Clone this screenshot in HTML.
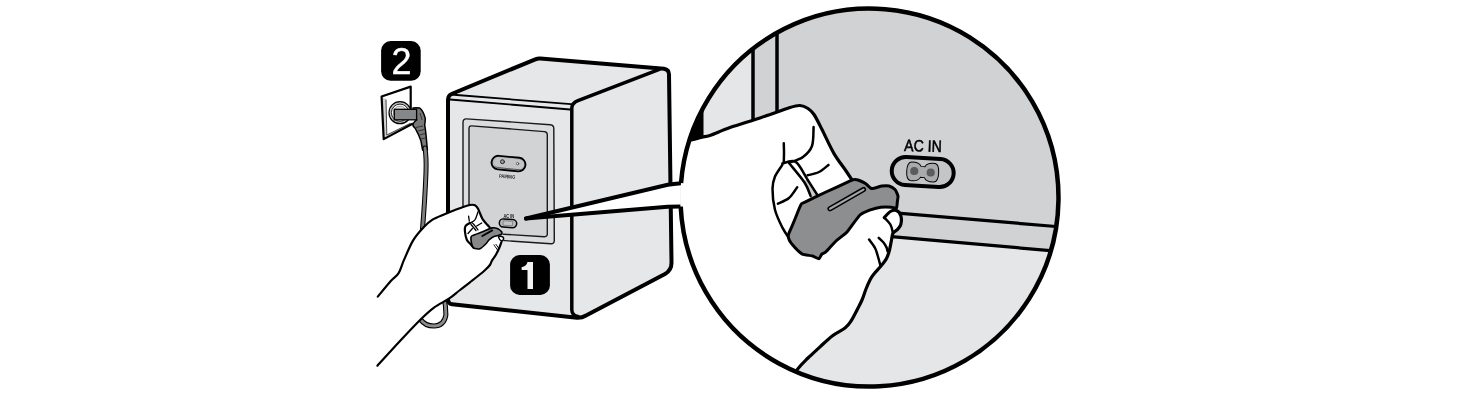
<!DOCTYPE html>
<html><head><meta charset="utf-8">
<style>
html,body{margin:0;padding:0;background:#fff;width:1465px;height:403px;overflow:hidden}
svg{display:block;will-change:transform}
</style></head>
<body>
<svg width="1465" height="403" viewBox="0 0 1465 403">
<defs>
<clipPath id="cc"><circle cx="869.5" cy="197.4" r="189"/></clipPath>
</defs>
<g stroke-linejoin="round" stroke-linecap="round">
  <path d="M448,299 L448,100 Q448,95.5 451.5,94 L535.3,59.3 Q537.8,58.3 540.3,58.5 L664,68.8 Q669,69.6 669,74.5 L671.5,262 Q671.8,270 665,274 L586,315.5 Q582,317.9 577,317.7 L452,304.3 Q448,303.8 448,299 Z" fill="#e6e7e9" stroke="#000" stroke-width="4"/>
  <path d="M450.5,94.5 L571,104.2 M450,99.5 L570,109.5" fill="none" stroke="#000" stroke-width="1.8"/>
  <path d="M659.3,69.3 L578,100.7 Q572,103 571.8,108 L571.8,310 Q572,315.5 578,316.5" fill="none" stroke="#000" stroke-width="3.5"/>
  <path d="M466.5,118.9 L550.3,124.7 Q553.8,125 553.8,128.5 L554.3,240.5 Q554.3,244 550.8,243.8 L466.5,237.9 Q463,237.7 463,234.2 L463,122.5 Q463,118.7 466.5,118.9 Z" fill="#dbdcde" stroke="#1a1a1a" stroke-width="1.4"/>
  <path d="M471.5,125.9 L544.3,131.6 Q547.3,131.8 547.3,134.8 L547.3,233.9 Q547.3,236.9 544.3,236.7 L472,232.4 Q469,232.2 469,229.2 L469,128.9 Q469,125.7 471.5,125.9 Z" fill="#d2d3d5" stroke="#1a1a1a" stroke-width="1.4"/>
  <g transform="translate(508.5,163.6) rotate(5.5)">
    <rect x="-17" y="-6.8" width="34" height="13.6" rx="6.8" fill="#b4b5b7" stroke="#000" stroke-width="1.9"/>
    <rect x="-14.5" y="-5" width="30" height="9.5" rx="4.7" fill="#c3c4c6"/>
    <path d="M-13,4.6 Q-4,5.3 13,5" fill="none" stroke="#222" stroke-width="0.6"/>
    <circle cx="-6.2" cy="-1.3" r="2" fill="#999" stroke="#222" stroke-width="0.9"/>
    <circle cx="9" cy="-0.8" r="1.2" fill="#eee" stroke="#333" stroke-width="0.7"/>
  </g>
  <text x="499" y="178.3" font-family="Liberation Sans" font-weight="bold" font-size="5.2" textLength="16" lengthAdjust="spacingAndGlyphs" fill="#222" transform="rotate(4 507.5 178)">PAIRING</text>
  <text x="503.5" y="217.8" font-family="Liberation Sans" font-weight="bold" font-size="4.8" textLength="10.5" lengthAdjust="spacingAndGlyphs" fill="#111">AC IN</text>
  <g transform="translate(508,223.3) rotate(4)">
    <rect x="-8.7" y="-4.1" width="17.4" height="8.2" rx="4.1" fill="#b9babc" stroke="#000" stroke-width="1.5"/>
    <path d="M-4.5,-2.2 h9 v4.4 h-9 z" fill="#c4c5c7" stroke="#666" stroke-width="0.6"/>
  </g>
</g>
<g>
  <path d="M381.6,96.5 L410.7,86.6 L411.5,123.5 L383.7,139.1 Z" fill="#fff"/>
  <path d="M382.8,97 L386,99.5 L386.8,135 L410.5,123 L410.8,124 L383.7,138.6 Z" fill="#d0d0d0"/>
  <path d="M386,99.5 L386.8,135 L410.5,123.3" fill="none" stroke="#333" stroke-width="0.9"/>
  <path d="M410.7,109 L410.7,86.6 L381.6,96.5 L383.7,139.1 L413,123.5" fill="none" stroke="#000" stroke-width="2.2" stroke-linejoin="round"/>
  <circle cx="400" cy="112.7" r="11" fill="#b9babc" stroke="#000" stroke-width="1.2"/>
  <circle cx="400" cy="112.7" r="8.6" fill="#fff" stroke="#222" stroke-width="1"/>
  <circle cx="400" cy="112.7" r="6.6" fill="#e2e2e2" stroke="#666" stroke-width="0.6"/>
  <path d="M413,108 Q417,107.5 419.7,108 Q423.5,111 425.3,118.6 Q425.2,122 424.7,124.8 Q425.5,130 426,134.7 L427.4,150 L422.6,150 L421,141 Q419.5,137 418.5,134.7 Q416.5,131 415.4,128.5 Q412.5,126 412.9,124.2 Q414,121.5 416.6,119.8 Z" fill="#77787a" stroke="#000" stroke-width="1.5" stroke-linejoin="round"/>
  <path d="M416,127.5 L423,126 M418,131 L424.5,129.5 M419.5,135 L425,133.5 M420.5,139 L425.5,138 M420,113 L422,120" stroke="#333" stroke-width="1"/>
  <rect x="394.3" y="109.3" width="22.3" height="10.5" fill="#868789" stroke="#000" stroke-width="1.3"/>
  <path d="M425,148 Q426.5,158 426,172 Q425,200 422,235" fill="none" stroke="#000" stroke-width="5" stroke-linecap="round"/>
  <path d="M425,148 Q426.5,158 426,172 Q425,200 422,235" fill="none" stroke="#7d7e80" stroke-width="2.9" stroke-linecap="round"/>
  <path d="M444,298 Q446,306 445.9,315 Q444,326 434,326 Q425,326 420.6,319.5" fill="none" stroke="#000" stroke-width="5" stroke-linecap="round"/>
  <path d="M444,298 Q446,306 445.9,315 Q444,326 434,326 Q425,326 420.6,319.5" fill="none" stroke="#8a8b8d" stroke-width="2.8" stroke-linecap="round"/>
</g>
<rect x="381.1" y="41.1" width="39.6" height="39.6" rx="9.5" fill="#000"/>
<text x="401.6" y="73.9" font-family="Liberation Sans" font-size="36" text-anchor="middle" fill="#fff" stroke="#fff" stroke-width="0.4">2</text>
<g stroke="#000" stroke-linejoin="round" stroke-linecap="round">
<path d="M377.8,296.6 C380,294 387.3,284.9 390.8,281 C394.3,277.1 396.4,276.6 398.6,273.1 C400.8,269.6 401.5,265.5 403.9,260.1 C406.3,254.7 409.8,246 413,240.6 C416.2,235.2 420.1,231.1 423.4,227.6 C426.6,224.1 429.1,221.9 432.5,219.7 C435.9,217.5 440.2,216.1 444,214.5 C447.8,212.9 450.7,211.6 455,210 C459.3,208.4 466.5,205.7 469.9,205 C473.3,204.3 474.1,204.8 475.5,205.6 C476.9,206.4 477.5,207.7 478.6,209.9 C479.7,212.1 480.9,216.1 482.3,218.6 C483.8,221.1 486.1,223.4 487.3,224.8 C488.5,226.2 489.3,226.9 489.7,227.3 L497.2,228.5 L501.8,232 L503.8,239.9 L501.3,242.4 C501,243.3 500.2,245.7 499.3,247.8 C498.4,249.9 497.1,252.7 495.9,254.8 C494.7,256.9 492.9,259 491.9,260.7 C490.9,262.4 491.1,263.4 489.9,265 C488.7,266.6 487.7,267.8 484.6,270.5 C481.6,273.2 475.7,277.8 471.6,281 C467.5,284.2 463.8,287.1 460,290 C456.2,292.9 453.2,295.8 448.9,298.7 C444.6,301.6 438.7,304.1 434,307.6 C429.3,311.1 426.3,313.9 420.6,319.5 C414.9,325.1 407.2,333.3 400,341 C392.8,348.7 381.2,361.6 377.4,365.7 L370,366 L370,300 Z" fill="#fff" stroke="none"/>
<path d="M377.8,296.6 C380,294 387.3,284.9 390.8,281 C394.3,277.1 396.4,276.6 398.6,273.1 C400.8,269.6 401.5,265.5 403.9,260.1 C406.3,254.7 409.8,246 413,240.6 C416.2,235.2 420.1,231.1 423.4,227.6 C426.6,224.1 429.1,221.9 432.5,219.7 C435.9,217.5 440.2,216.1 444,214.5 C447.8,212.9 450.7,211.6 455,210 C459.3,208.4 466.5,205.7 469.9,205 C473.3,204.3 474.1,204.8 475.5,205.6 C476.9,206.4 477.5,207.7 478.6,209.9 C479.7,212.1 480.9,216.1 482.3,218.6 C483.8,221.1 486.1,223.4 487.3,224.8 C488.5,226.2 489.3,226.9 489.7,227.3" fill="none" stroke-width="2.2"/>
<path d="M501.3,242.4 C501,243.3 500.2,245.7 499.3,247.8 C498.4,249.9 497.1,252.7 495.9,254.8 C494.7,256.9 492.9,259 491.9,260.7 C490.9,262.4 491.1,263.4 489.9,265 C488.7,266.6 487.7,267.8 484.6,270.5 C481.6,273.2 475.7,277.8 471.6,281 C467.5,284.2 463.8,287.1 460,290 C456.2,292.9 453.2,295.8 448.9,298.7 C444.6,301.6 438.7,304.1 434,307.6 C429.3,311.1 426.3,313.9 420.6,319.5 C414.9,325.1 407.2,333.3 400,341 C392.8,348.7 381.2,361.6 377.4,365.7" fill="none" stroke-width="2.2"/>
<path d="M469.9,223 C469.2,223.5 466.3,224.7 465.5,226 C464.7,227.3 464.7,228.7 464.9,231 C465.1,233.3 465.8,237.4 466.8,239.7 C467.8,242 470,243.3 471.1,244.7 C472.2,246 473.2,247.3 473.6,247.8" fill="none" stroke-width="2.2"/>
<path d="M478,211.8 C477.5,213.2 476.2,218 474.9,219.9 C473.5,221.8 470.7,222.5 469.9,223" fill="none" stroke-width="1.3"/>
<path d="M468.6,216.1 C468.7,216.9 469.2,220.3 469.3,221.1" fill="none" stroke-width="1.3"/>
<path d="M469.9,223 C470.3,223 471,221.9 472.4,223 C473.8,224.1 477.1,228.7 478,229.8" fill="none" stroke-width="1.3"/>
<path d="M471,224.5 C471.8,225.5 475.2,229.5 476,230.5" fill="none" stroke-width="1.3"/>
<path d="M476.7,226 C477.5,225.5 480.9,223.5 481.7,223" fill="none" stroke-width="1.3"/>
<path d="M468,233.5 C468.7,232.7 471.7,229.3 472.4,228.5" fill="none" stroke-width="1.3"/>
<path d="M471.7,236 C472.8,235.1 479.9,232.8 482,232 C484.1,231.2 490.7,228.2 492.2,227.9 C493.7,227.6 496.2,228.1 497.2,228.5 C498.2,228.9 501.4,231.4 501.8,232 C502.2,232.6 501.6,234.1 501.3,234.4 C501,234.7 499.1,235.2 498.4,235.4 C497.7,235.6 494.8,236 493.9,236.4 C493,236.8 489.8,239.2 489,239.9 C488.2,240.6 486.9,242.9 486,243.8 C485.1,244.7 481.2,248.4 480,248.8 C478.8,249.2 474.5,248.6 473.6,247.8 C472.7,247 471.3,242.2 471.1,241 C470.9,239.8 470.6,236.9 471.7,236 Z" fill="#87888a" stroke-width="1.6"/>
<path d="M482.3,236 L492.2,230.4" fill="none" stroke-width="1.9" stroke-dasharray="1.1 0.7"/>
<path d="M498.4,236.9 Q500.8,235.3 503.3,237.4 Q504.5,239.5 501.8,241.4 Q499.5,240.5 498.4,236.9 Z" fill="#fff" stroke-width="1.4"/>
<path d="M493.9,244.8 L497.4,249.8 M495.9,244.3 L498.4,247.8" fill="none" stroke-width="0.9"/>
</g>
<rect x="510.1" y="255.1" width="39.8" height="39.8" rx="9.5" fill="#000"/>
<path d="M527.5,262.1 L533,262.1 L533,288.9 L527.5,288.9 L527.5,270 L521.6,270 L521.6,267.2 Q526.5,266.5 527.5,262.1 Z" fill="#f2f2f2"/>
<path d="M526,218.5 L667.7,184.8 Q676,183.5 684,183 L681,206.5 L667.7,207 Z" fill="#fff" stroke="none"/>
<path d="M526,218.5 L667.7,184.8 Q676,183.5 684,183" fill="none" stroke="#000" stroke-width="4" stroke-linecap="round"/>
<path d="M526,218.5 L667.7,206.8 L681,206.5" fill="none" stroke="#000" stroke-width="4" stroke-linecap="round"/>
<g clip-path="url(#cc)">
  <rect x="670" y="0" width="400" height="403" fill="#d1d2d4"/>
  <rect x="670" y="0" width="83" height="403" fill="#e5e6e8"/>
  <path d="M880,235.6 L1070,252.4 L1070,403 L670,403 L670,235 Z" fill="#e5e6e8"/>
  <path d="M753,0 V160 M777,0 V160" stroke="#000" stroke-width="3.5"/>
  <path d="M703.5,100 L703.5,137 L688,142 L680,142 L680,100 Z" fill="#000"/>
  <path d="M880,211.6 L1070,227.7" stroke="#000" stroke-width="3.2"/>
  <path d="M880,235.6 L1070,252.4" stroke="#000" stroke-width="3.2"/>
  <text x="904.2" y="151.6" font-family="Liberation Sans" font-size="16.5" textLength="37.6" lengthAdjust="spacingAndGlyphs" fill="#000" stroke="#000" stroke-width="0.55" transform="rotate(1.8 923 146)">AC IN</text>
  <g transform="translate(922.7,172) rotate(3.5)">
    <rect x="-31" y="-14" width="62" height="28" rx="14" fill="#c4c5c7" stroke="#000" stroke-width="4"/>
    <path d="M-12,-9.3 Q-4,-10 -2,-5.5 L2,-5.5 Q4,-10 12,-9.3 Q16,-8.5 16,0 Q16,8.5 12,9.3 Q4,10 2,5.5 L-2,5.5 Q-4,10 -12,9.3 Q-16,8.5 -16,0 Q-16,-8.5 -12,-9.3 Z" fill="#a9aaac" stroke="#000" stroke-width="1"/>
    <circle cx="-8.5" cy="-0.5" r="4.1" fill="#5b5c5e"/>
    <circle cx="8" cy="0" r="4.1" fill="#5b5c5e"/>
  </g>
<path d="M660,141 L672,142 C675.2,141.7 686,140.8 691,140 C696,139.2 698.8,138 702,137.2 C705.2,136.4 705.3,137 710,135.4 C714.7,133.8 721.7,130.4 730,127.5 C738.3,124.6 750,121.2 760,117.9 C770,114.6 783.3,109.6 790,107.5 C796.7,105.4 797,105.3 800,105.5 C803,105.7 805.7,107 808,108.5 C810.3,110 811.7,111 814,114.5 C816.3,118 818.7,123 822,129.5 C825.3,136 829.9,146.6 834,153.6 C838.1,160.6 843.4,167 846.4,171.5 C849.4,176 851.3,178.9 852.3,180.4 L856.9,179.9 L871.8,188.6 L881.7,186.1 L894,188.6 L897.9,197.3 L896.5,208 L884.3,217.6 L884.3,217.6 C885.3,216.6 888.4,212.7 890.4,211.5 C892.4,210.3 894.8,209.9 896.5,210.6 C898.2,211.3 900.1,213.5 900.8,215.8 C901.5,218.1 901.4,222.2 900.8,224.5 C900.2,226.8 898.6,228.2 897.3,229.7 C896,231.1 894,231.5 893,233.2 C892,234.9 892.1,237.2 891.5,240 C890.9,242.8 890.3,246.9 889.5,250 C888.7,253.1 887.9,255.8 886.5,258.5 C885.1,261.2 883,263.5 881,266 C879,268.5 876,271.3 874.3,273.5 C872.5,275.7 871.9,276.4 870.5,279 C869.1,281.6 867.4,285.5 866,289 C864.6,292.5 863.5,296.5 862,300 C860.5,303.5 858.8,306.4 857,309.9 C855.2,313.4 853,318 851,321 C849,324 848.1,325.5 845,328 C841.9,330.5 836.4,332.7 832.2,335.9 C828,339.1 823.8,343.4 819.8,347.1 C815.8,350.8 811.7,354.3 808,358 C804.3,361.7 801.2,364.1 797.4,369.4 C793.6,374.7 787.1,386.6 785,390 L780,400 L660,400 Z" fill="#fff"/>
<path d="M672,142 C675.2,141.7 686,140.8 691,140 C696,139.2 698.8,138 702,137.2 C705.2,136.4 705.3,137 710,135.4 C714.7,133.8 721.7,130.4 730,127.5 C738.3,124.6 750,121.2 760,117.9 C770,114.6 783.3,109.6 790,107.5 C796.7,105.4 797,105.3 800,105.5 C803,105.7 805.7,107 808,108.5 C810.3,110 811.7,111 814,114.5 C816.3,118 818.7,123 822,129.5 C825.3,136 829.9,146.6 834,153.6 C838.1,160.6 843.4,167 846.4,171.5 C849.4,176 851.3,178.9 852.3,180.4" fill="none" stroke="#000" stroke-width="3.2" stroke-linejoin="round" stroke-linecap="round"/>
<path d="M884.3,217.6 C885.3,216.6 888.4,212.7 890.4,211.5 C892.4,210.3 894.8,209.9 896.5,210.6 C898.2,211.3 900.1,213.5 900.8,215.8 C901.5,218.1 901.4,222.2 900.8,224.5 C900.2,226.8 898.6,228.2 897.3,229.7 C896,231.1 894,231.5 893,233.2 C892,234.9 892.1,237.2 891.5,240 C890.9,242.8 890.3,246.9 889.5,250 C888.7,253.1 887.9,255.8 886.5,258.5 C885.1,261.2 883,263.5 881,266 C879,268.5 876,271.3 874.3,273.5 C872.5,275.7 871.9,276.4 870.5,279 C869.1,281.6 867.4,285.5 866,289 C864.6,292.5 863.5,296.5 862,300 C860.5,303.5 858.8,306.4 857,309.9 C855.2,313.4 853,318 851,321 C849,324 848.1,325.5 845,328 C841.9,330.5 836.4,332.7 832.2,335.9 C828,339.1 823.8,343.4 819.8,347.1 C815.8,350.8 811.7,354.3 808,358 C804.3,361.7 801.2,364.1 797.4,369.4 C793.6,374.7 787.1,386.6 785,390" fill="none" stroke="#000" stroke-width="3.2" stroke-linejoin="round" stroke-linecap="round"/>
<path d="M803,181 L807.6,179.8 L818,196 L811,199 Z" fill="#c9cacc"/>
<g fill="none" stroke="#000" stroke-width="2.5" stroke-linecap="round" stroke-linejoin="round">
<path d="M813.6,127 C813.3,130.2 813.8,141 812,146 C810.2,151 806.7,154.2 803,157 C799.3,159.8 792,161.6 789.8,162.5"/>
<path d="M783.8,143.2 C783.8,144.8 784,149.8 784,153 C784,156.2 783.8,160.9 783.8,162.5"/>
<path d="M782.3,164.9 C781.1,166.9 776.5,172.8 774.9,176.8 C773.3,180.8 772.5,183.2 772.5,188.7 C772.5,194.1 773.3,203.1 774.9,209.5 C776.5,215.9 779.8,222.4 782.3,227.4 C784.8,232.4 788.5,237.3 789.8,239.3"/>
<path d="M782.3,163.5 C784.5,163.2 791.5,159.2 795.7,161.9 C799.9,164.6 803.9,174.1 807.6,179.8 C811.3,185.5 816.3,193.3 818,196"/>
<path d="M789,163 C791.6,166.3 801.1,177.2 804.7,182.7 C808.3,188.2 809.6,193.8 810.6,196"/>
<path d="M807.6,175.3 C809.5,174.8 815.5,173.7 819,172 C822.5,170.3 826.9,166.1 828.5,164.9"/>
<path d="M777.9,203.6 C779.8,202.7 785.8,200.7 789,198 C792.2,195.3 795.8,189 797.2,187.2"/>
<path d="M869.1,239.6 C870.1,241 873.5,245.3 875,248 C876.5,250.7 876.9,253.1 877.8,256 C878.7,258.9 880,264.1 880.4,265.7"/>
<path d="M893,233.2 C892.6,231.8 891.9,227.1 890.4,224.5 C888.9,221.9 885.3,218.8 884.3,217.6"/>
<path d="M878.7,237.8 C879.5,238.6 882.2,240.9 883.5,242.5 C884.8,244.1 885.8,246 886.5,247.4 C887.2,248.8 887.3,250.4 887.5,251"/>
</g>
<path d="M801.4,203.9 C802.1,202.9 804,202.7 806,201.7 C808,200.7 822.6,193.6 826,192 C829.4,190.4 844.8,183.4 847,182.4 C849.2,181.4 852.1,180 853,179.8 C853.9,179.6 857,179.7 858,180 C859,180.3 864.5,182.9 865.6,183.6 C866.8,184.3 870.5,188.4 871.8,188.6 C873.1,188.8 880.3,186.3 881.7,186.1 C883.1,185.9 887.9,185.7 889,186 C890.1,186.3 894.2,188.7 895,189.5 C895.8,190.3 897.8,195 898,196 C898.2,197 897.4,201 897.3,202 C897.2,203 897,207.6 896.5,208 C896,208.4 892.6,207.3 891.3,207.2 C890,207.1 882.5,207 880.8,207.2 C879.1,207.4 872.1,209.2 870.4,209.8 C868.7,210.5 862,213.2 860,215 C858,216.8 849,229.8 847,232 C845,234.2 837.8,239.3 836,241 C834.2,242.7 827.1,250.8 825.9,251.9 C824.7,253 822.4,253.5 821.8,254.1 C821.2,254.7 819.8,258.6 819,258.8 C818.2,259 813.9,256.4 812.5,256 C811.1,255.6 803.8,254.8 802.3,254.1 C800.8,253.4 796,248.8 794.9,247.6 C793.8,246.4 789.8,241.3 789.3,240.2 C788.8,239.1 788.1,235.9 788.4,234.6 C788.7,233.3 791.8,226.7 792.5,225 C793.2,223.3 796.3,215.8 797,214 C797.7,212.2 800.6,204.9 801.4,203.9 Z" fill="#8d8e90" stroke="#000" stroke-width="3" stroke-linejoin="round"/>
  <path d="M830,208.7 L863.5,189.6" stroke="#000" stroke-width="5.2" stroke-linecap="round"/>
  <path d="M830,208.7 L863.5,189.6" stroke="#a3a4a6" stroke-width="2.2" stroke-linecap="round"/>
</g>
<path d="M681.05,183 A189,189 0 1,1 680.7,206.5" fill="none" stroke="#000" stroke-width="4.5"/>
</svg>
</body></html>
